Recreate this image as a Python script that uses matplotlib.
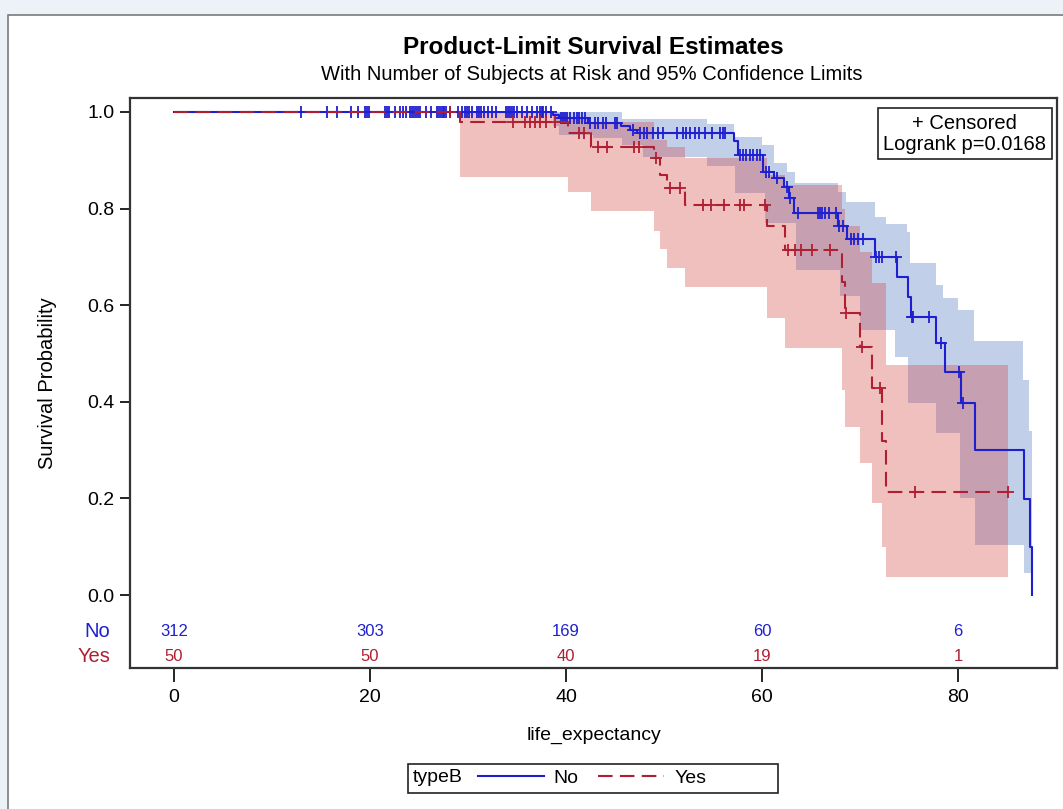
import numpy as np
import matplotlib.pyplot as plt
from matplotlib.patches import Rectangle

plt.rcParams['font.family'] = ['Liberation Sans', 'DejaVu Sans']

# Kaplan-Meier steps: time of each drop and survival after it
no_time = [38.7, 39.3, 42.2, 45.6, 46.5, 47.2, 57.1, 57.6, 60.1, 61.2, 62.2, 62.8, 63.3,
           67.8, 68.7, 71.5, 73.8, 74.9, 75.2, 77.8, 78.7, 80.3, 81.7, 86.7, 87.3, 87.5]
no_surv = [0.994, 0.988, 0.977, 0.970, 0.962, 0.956, 0.939, 0.912, 0.876, 0.863, 0.845, 0.821, 0.790,
           0.763, 0.738, 0.700, 0.659, 0.618, 0.576, 0.521, 0.462, 0.397, 0.300, 0.198, 0.100, 0.0]
no_censor = [13.0, 15.6, 16.6, 18.1, 18.8, 19.5, 19.7, 19.9, 21.5, 21.7, 21.9, 22.6, 23.1, 23.4,
             23.7, 24.1, 24.3, 24.5, 24.7, 24.9, 25.1, 25.7, 26.2, 26.8, 27.0, 27.2, 27.4, 27.6,
             27.8, 28.2, 29.0, 29.4, 29.7, 29.9, 30.1, 30.4, 30.9, 31.1, 31.3, 31.6, 32.0, 32.4,
             32.9, 33.9, 34.1, 34.3, 34.5, 34.7, 35.0, 35.5, 36.0, 36.5, 37.0, 37.3, 37.5, 37.7,
             38.0, 38.5, 39.5, 39.7, 39.9, 40.1, 40.4, 40.8, 41.1, 41.3, 41.6, 41.9, 42.4, 43.0,
             43.3, 43.8, 44.1, 45.0, 45.2, 46.8, 47.5, 48.0, 48.3, 48.9, 49.4, 49.9, 51.3, 51.9,
             52.2, 52.7, 53.2, 53.6, 54.2, 54.9, 55.7, 56.0, 56.2, 57.8, 58.1, 58.4, 58.8, 59.1,
             59.5, 59.8, 60.4, 60.7, 61.5, 62.5, 62.9, 63.7, 65.7, 65.9, 66.1, 66.4, 66.8, 67.6,
             67.9, 68.3, 69.1, 69.4, 69.8, 70.3, 71.6, 71.9, 72.2, 73.7, 75.3, 75.4, 77.0, 78.3,
             80.1, 80.5]

yes_time = [29.2, 40.2, 42.6, 49.0, 49.6, 50.3, 52.1, 60.5, 62.3, 68.2, 68.5, 70.0, 71.2, 72.2, 72.7]
yes_surv = [0.980, 0.956, 0.927, 0.904, 0.870, 0.842, 0.807, 0.763, 0.714, 0.649, 0.583, 0.514,
            0.428, 0.318, 0.214]
yes_end = 85.1
yes_censor = [28.2, 34.6, 35.8, 36.3, 36.8, 37.3, 38.0, 38.9, 41.3, 41.8, 43.3, 44.2, 46.9, 47.4,
              49.2, 50.6, 51.6, 54.0, 54.8, 56.1, 57.8, 58.2, 60.3, 62.7, 63.4, 64.0, 65.1, 66.9,
              68.6, 70.2, 72.0, 75.6, 85.1]

# 95% confidence limits: start time of each step and its value
no_lower_time = [38.7, 39.3, 42.8, 45.7, 47.9, 54.4, 57.2, 60.3, 63.5, 68.0, 70.0, 73.6, 74.9,
                 77.8, 80.2, 81.7, 86.7]
no_lower = [0.970, 0.952, 0.947, 0.932, 0.907, 0.888, 0.832, 0.770, 0.673, 0.620, 0.549, 0.493,
            0.397, 0.335, 0.200, 0.104, 0.045]
no_upper_time = [38.7, 45.7, 54.4, 57.1, 60.0, 61.2, 62.5, 63.4, 67.8, 68.6, 71.5, 72.7, 74.8,
                 75.1, 77.8, 78.5, 80.0, 81.6, 86.6, 87.2]
no_upper = [0.999, 0.985, 0.975, 0.949, 0.932, 0.894, 0.876, 0.852, 0.835, 0.814, 0.783, 0.768,
            0.752, 0.687, 0.642, 0.615, 0.590, 0.525, 0.445, 0.340]
no_band_end = 87.5

yes_lower_time = [29.2, 40.2, 42.6, 49.0, 49.6, 50.3, 52.1, 60.5, 62.3, 68.2, 68.5, 70.0, 71.2,
                  72.2, 72.7]
yes_lower = [0.865, 0.835, 0.796, 0.754, 0.716, 0.678, 0.638, 0.573, 0.511, 0.424, 0.348, 0.273,
             0.190, 0.100, 0.038]
yes_upper_time = [29.2, 40.2, 42.6, 49.0, 50.3, 52.1, 60.5, 62.3, 68.2, 68.5, 70.0, 71.2, 72.7]
yes_upper = [0.997, 0.990, 0.980, 0.942, 0.928, 0.905, 0.870, 0.848, 0.800, 0.763, 0.710, 0.645,
             0.476]
yes_band_end = 85.1

# number of subjects at risk
risk_times = [0, 20, 40, 60, 80]
risk_no = [312, 303, 169, 60, 6]
risk_yes = [50, 50, 40, 19, 1]

blue = '#1f1fd2'
red = '#b01e32'


def step_value(times, values, t, before=1.0):
    idx = np.searchsorted(times, t, side='right') - 1
    vals = np.asarray(values)[np.clip(idx, 0, None)]
    return np.where(idx >= 0, vals, before)


def draw_band(ax, lo_t, lo_v, up_t, up_v, end, color, alpha):
    grid = np.unique(np.r_[lo_t, up_t, end])
    lo = step_value(lo_t, lo_v, grid)
    up = step_value(up_t, up_v, grid)
    ax.fill_between(grid, lo, up, step='post', color=color, alpha=alpha, lw=0, zorder=1)


fig = plt.figure(figsize=(10.63, 8.09), dpi=100)
fig.patch.set_facecolor('#edf2f9')
fig.add_artist(Rectangle((8 / 1063, -0.05), 1.2, 1.05 - 15 / 809, transform=fig.transFigure,
                         facecolor='white', edgecolor='#7a7a7a', lw=1.2, zorder=0))

ax = fig.add_axes([130 / 1063, 1 - 668 / 809, 927 / 1063, 570.3 / 809])

# confidence bands
draw_band(ax, no_lower_time, no_lower, no_upper_time, no_upper, no_band_end, '#6488c8', 0.4)
draw_band(ax, yes_lower_time, yes_lower, yes_upper_time, yes_upper, yes_band_end, '#d24b46', 0.35)

# survival curves
line_no, = ax.step(np.r_[0, no_time], np.r_[1, no_surv], where='post', color=blue, lw=1.5,
                   zorder=3, label='No')
line_yes, = ax.step(np.r_[0, yes_time, yes_end], np.r_[1, yes_surv, yes_surv[-1]], where='post',
                    color=red, lw=1.5, dashes=(7, 3.5), zorder=4, label='Yes')

# censor marks
ax.plot(no_censor, step_value(no_time, no_surv, no_censor), ls='none', marker='+', ms=9,
        mew=1.3, color=blue, zorder=3)
ax.plot(yes_censor, step_value(yes_time, yes_surv, yes_censor), ls='none', marker='+', ms=9,
        mew=1.3, color=red, zorder=4)

ax.set_xlim(-4.49, 90.1)
ax.set_ylim(-0.1511, 1.0296)
ax.set_xticks([0, 20, 40, 60, 80])
ax.set_yticks([0.0, 0.2, 0.4, 0.6, 0.8, 1.0])
ax.set_yticklabels(['%.1f' % v for v in ax.get_yticks()])
ax.tick_params(axis='x', length=10, width=1.2, pad=5, labelsize=14)
ax.tick_params(axis='y', length=7, width=1.2, pad=4, labelsize=14)
for sp in ax.spines.values():
    sp.set_color('#333333')
    sp.set_linewidth(1.6)

ax.set_xlabel('life_expectancy', fontsize=14, labelpad=15)
ax.set_ylabel('Survival Probability', fontsize=14.5, labelpad=22)

# at-risk table inside the plot frame
for t, n in zip(risk_times, risk_no):
    ax.text(t, -0.0745, str(n), ha='center', va='center', fontsize=12, color=blue)
for t, n in zip(risk_times, risk_yes):
    ax.text(t, -0.128, str(n), ha='center', va='center', fontsize=12, color=red)
ax.text(-0.021, -0.0745, 'No', transform=ax.get_yaxis_transform(), ha='right', va='center',
        fontsize=14.5, color=blue)
ax.text(-0.021, -0.128, 'Yes', transform=ax.get_yaxis_transform(), ha='right', va='center',
        fontsize=14.5, color=red)

# inset box with censor note and logrank p-value
ax.text(0.9005, 0.937, '+ Censored\nLogrank p=0.0168', transform=ax.transAxes, ha='center',
        va='center', multialignment='center', fontsize=14.5, linespacing=1.15,
        bbox=dict(boxstyle='square,pad=0.28', facecolor='white', edgecolor='#222222', lw=1.2))

# titles
fig.text(593 / 1063, 1 - 48 / 809, 'Product-Limit Survival Estimates', ha='center', va='center',
         fontsize=17.5, fontweight='bold')
fig.text(592 / 1063, 1 - 75 / 809, 'With Number of Subjects at Risk and 95% Confidence Limits',
         ha='center', va='center', fontsize=14.5)

# bottom legend: group label, then the two curves
fig.add_artist(Rectangle((408 / 1063, 1 - 793 / 809), 370 / 1063, 29 / 809,
                         transform=fig.transFigure, facecolor='white', edgecolor='#222222', lw=1.2))
fig.text(413 / 1063, 1 - 778 / 809, 'typeB', ha='left', va='center', fontsize=14)
fig.legend(handles=[line_no, line_yes], labels=['No', 'Yes'], ncol=2, frameon=False,
           loc='center left', bbox_to_anchor=(478 / 1063, 1 - 778 / 809), fontsize=14,
           handlelength=3.4, handletextpad=0.5, columnspacing=1.0, borderpad=0, borderaxespad=0)

fig.savefig('out.png', dpi=100, facecolor=fig.get_facecolor())
